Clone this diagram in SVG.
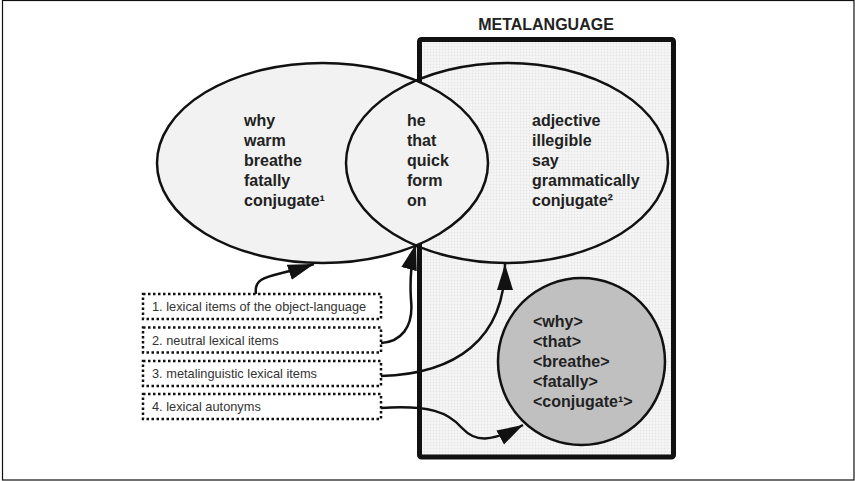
<svg xmlns="http://www.w3.org/2000/svg" width="855" height="481" viewBox="0 0 855 481">
  <style>
    .bold { font-family: "Liberation Sans", Arial, sans-serif; font-weight: bold; font-size: 16px; fill: #222; }
    .label { font-family: "Liberation Sans", Arial, sans-serif; font-size: 12.8px; fill: #333; }
    .outline { stroke: #111; stroke-width: 2.5; }
    .dotbox { fill: #fff; stroke: #111; stroke-width: 2.5; stroke-dasharray: 2.5 2.5; }
    .conn { fill: none; stroke: #111; stroke-width: 2.5; marker-end: url(#head); }
  </style>
  <defs>
    <pattern id="dots" width="3" height="3" patternUnits="userSpaceOnUse">
      <rect width="3" height="3" fill="#fbfbfb"/>
      <rect x="0.5" y="0.5" width="2" height="2" fill="#e6e6e6"/>
    </pattern>
    <marker id="head" markerUnits="userSpaceOnUse" markerWidth="28" markerHeight="17" refX="26" refY="8" orient="auto">
      <path d="M0,0 L26,8 L0,16 Z" fill="#111"/>
    </marker>
  </defs>

  <!-- frame -->
  <rect x="2.5" y="0.5" width="851.5" height="479.5" fill="#fff" stroke="#111" stroke-width="1.2"/>

  <!-- metalanguage region -->
  <g id="metalanguage">
    <rect x="419.5" y="39.5" width="254" height="417.5" rx="2" fill="url(#dots)" stroke="#111" stroke-width="5"/>
    <text class="bold" x="546" y="30" text-anchor="middle">METALANGUAGE</text>
  </g>

  <!-- object-language set -->
  <g id="object-language">
    <ellipse cx="322.5" cy="163" rx="165.5" ry="100" fill="#f2f2f2" class="outline"/>
    <text class="bold" x="244" y="126">why</text>
    <text class="bold" x="244" y="146">warm</text>
    <text class="bold" x="244" y="166">breathe</text>
    <text class="bold" x="244" y="186">fatally</text>
    <text class="bold" x="244" y="206">conjugate¹</text>
  </g>

  <!-- metalanguage set -->
  <g id="meta-set">
    <ellipse cx="507" cy="163" rx="161" ry="100" fill="none" class="outline"/>
    <text class="bold" x="532" y="126">adjective</text>
    <text class="bold" x="532" y="146">illegible</text>
    <text class="bold" x="532" y="166">say</text>
    <text class="bold" x="532" y="186">grammatically</text>
    <text class="bold" x="532" y="206">conjugate²</text>
  </g>

  <!-- shared items -->
  <g id="neutral">
    <text class="bold" x="407" y="126">he</text>
    <text class="bold" x="407" y="146">that</text>
    <text class="bold" x="407" y="166">quick</text>
    <text class="bold" x="407" y="186">form</text>
    <text class="bold" x="407" y="206">on</text>
  </g>

  <!-- autonyms -->
  <g id="autonyms">
    <circle cx="581.5" cy="361.5" r="83.5" fill="#c0c0c0" class="outline"/>
    <text class="bold" x="533" y="327">&lt;why&gt;</text>
    <text class="bold" x="533" y="347">&lt;that&gt;</text>
    <text class="bold" x="533" y="367">&lt;breathe&gt;</text>
    <text class="bold" x="533" y="387">&lt;fatally&gt;</text>
    <text class="bold" x="533" y="407">&lt;conjugate¹&gt;</text>
  </g>

  <!-- legend boxes -->
  <g id="item-1">
    <rect class="dotbox" x="143" y="294" width="238" height="25"/>
    <text class="label" x="152" y="311">1. lexical items of the object-language</text>
  </g>
  <g id="item-2">
    <rect class="dotbox" x="143" y="327.5" width="238" height="25"/>
    <text class="label" x="152" y="344.5">2. neutral lexical items</text>
  </g>
  <g id="item-3">
    <rect class="dotbox" x="143" y="361" width="238" height="25"/>
    <text class="label" x="152" y="378">3. metalinguistic lexical items</text>
  </g>
  <g id="item-4">
    <rect class="dotbox" x="143" y="394" width="238" height="25"/>
    <text class="label" x="152" y="411">4. lexical autonyms</text>
  </g>

  <!-- connectors -->
  <g id="connectors">
    <path class="conn" d="M256,294 C253,274 272,278 314,264"/>
    <path class="conn" d="M381,343 C400,342 414,328 411,300 C410,285 411,262 416,244"/>
    <path class="conn" d="M381,376 C455,374 505,340 505,264"/>
    <path class="conn" d="M381,408 C430,405 448,412 462,428 C475,442 490,443 523,425"/>
  </g>
</svg>
